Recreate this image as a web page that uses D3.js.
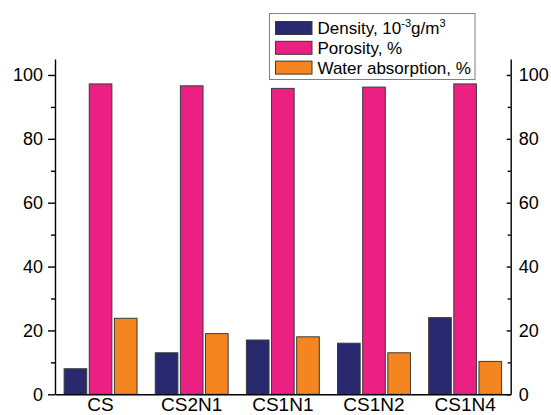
<!DOCTYPE html>
<html>
<head>
<meta charset="utf-8">
<script src="https://cdn.jsdelivr.net/npm/d3@7"></script>
<style>
  body { margin: 0; background: #fff; }
  svg { display: block; font-family: "Liberation Sans", Arial, sans-serif; }
</style>
</head>
<body>
<script>
let categories = ['CS', 'CS2N1', 'CS1N1', 'CS1N2', 'CS1N4']
let density = [8, 13, 17, 16, 24]
let porosity = [97.2, 96.6, 95.8, 96.2, 97.2]
let water = [23.8, 19, 18, 13, 10.3]
let majorTicks = [0, 20, 40, 60, 80, 100]
let minorTicks = [10, 30, 50, 70, 90]

let seriesKeys = ['density', 'porosity', 'water']
let seriesColors = ['#28296f', '#ec1f82', '#f5861f']

let width = 551
let height = 415
let margin = ({top: 59, right: 40.3, bottom: 20.7, left: 55})

let data = categories.map((c, i) => ({
  name: c, density: density[i], porosity: porosity[i], water: water[i]
}))

let x0 = d3.scaleBand()
    .domain(categories)
    .range([margin.left, width - margin.right])
    .paddingInner(0.2)
    .paddingOuter(0.1)

let x1 = d3.scaleBand()
    .domain(seriesKeys)
    .range([0, x0.bandwidth()])
    .paddingInner(0.1)

let y = d3.scaleLinear()
    .domain([0, 105])
    .range([height - margin.bottom, margin.top])

let color = d3.scaleOrdinal().domain(seriesKeys).range(seriesColors)

const svg = d3.select('body').append('svg')
    .attr('width', width)
    .attr('height', height)

svg.append('g')
  .selectAll('g')
  .data(data)
  .join('g')
    .attr('transform', d => `translate(${x0(d.name)},0)`)
  .selectAll('rect')
  .data(d => seriesKeys.map(k => ({key: k, value: d[k]})))
  .join('rect')
    .attr('x', d => x1(d.key))
    .attr('y', d => y(d.value))
    .attr('width', x1.bandwidth())
    .attr('height', d => y(0) - y(d.value))
    .attr('fill', d => color(d.key))
    .attr('stroke', '#3a3a3a')
    .attr('stroke-width', 1)

let styleAxis = (size) => g => {
  g.selectAll('path, line').attr('stroke', '#000').attr('stroke-width', 1.4)
  g.selectAll('text').attr('font-size', size).attr('fill', '#000')
  g.attr('font-family', null)
}

// left axis
svg.append('g')
    .attr('transform', `translate(${margin.left},0)`)
    .call(d3.axisLeft(y).tickValues(majorTicks).tickSize(7).tickSizeOuter(0).tickPadding(5))
    .call(styleAxis(18))
svg.append('g')
    .attr('transform', `translate(${margin.left},0)`)
    .call(d3.axisLeft(y).tickValues(minorTicks).tickSize(4).tickFormat(''))
    .call(styleAxis(18))
    .call(g => g.select('.domain').remove())

// right axis, ticks pointing inward
svg.append('g')
    .attr('transform', `translate(${width - margin.right},0)`)
    .call(d3.axisRight(y).tickValues(majorTicks).tickSize(-4).tickSizeOuter(0).tickPadding(8))
    .call(styleAxis(18))
svg.append('g')
    .attr('transform', `translate(${width - margin.right},0)`)
    .call(d3.axisRight(y).tickValues(minorTicks).tickSize(-3).tickFormat(''))
    .call(styleAxis(18))
    .call(g => g.select('.domain').remove())

// bottom axis
svg.append('g')
    .attr('transform', `translate(0,${y(0)})`)
    .call(d3.axisBottom(x0).tickSize(0).tickSizeOuter(0).tickPadding(3))
    .call(styleAxis(19))
    .call(g => g.selectAll('text').attr('dy', '0.71em'))

// legend
let legend = svg.append('g').attr('transform', 'translate(269.5,13.5)')
legend.append('rect')
    .attr('width', 205.5)
    .attr('height', 66)
    .attr('fill', '#fff')
    .attr('stroke', '#808080')
    .attr('stroke-width', 1)

let rows = legend.selectAll('g.row')
  .data(seriesKeys)
  .join('g')
    .attr('class', 'row')
    .attr('transform', (d, i) => `translate(6,${8 + i * 19.8})`)

rows.append('rect')
    .attr('width', 36.5)
    .attr('height', 13)
    .attr('fill', d => color(d))
    .attr('stroke', '#3a3a3a')
    .attr('stroke-width', 1)

let labels = rows.append('text')
    .attr('x', 42)
    .attr('y', 12.5)
    .attr('font-size', 17)
    .attr('fill', '#000')

labels.each(function(d) {
  let t = d3.select(this)
  if (d === 'density') {
    t.append('tspan').text('Density, 10')
    t.append('tspan').attr('font-size', 11).attr('dy', -7).text('-3')
    t.append('tspan').attr('dy', 7).text('g/m')
    t.append('tspan').attr('font-size', 11).attr('dy', -7).text('3')
  } else if (d === 'porosity') {
    t.text('Porosity, %')
  } else {
    t.text('Water absorption, %')
  }
})
</script>
</body>
</html>
